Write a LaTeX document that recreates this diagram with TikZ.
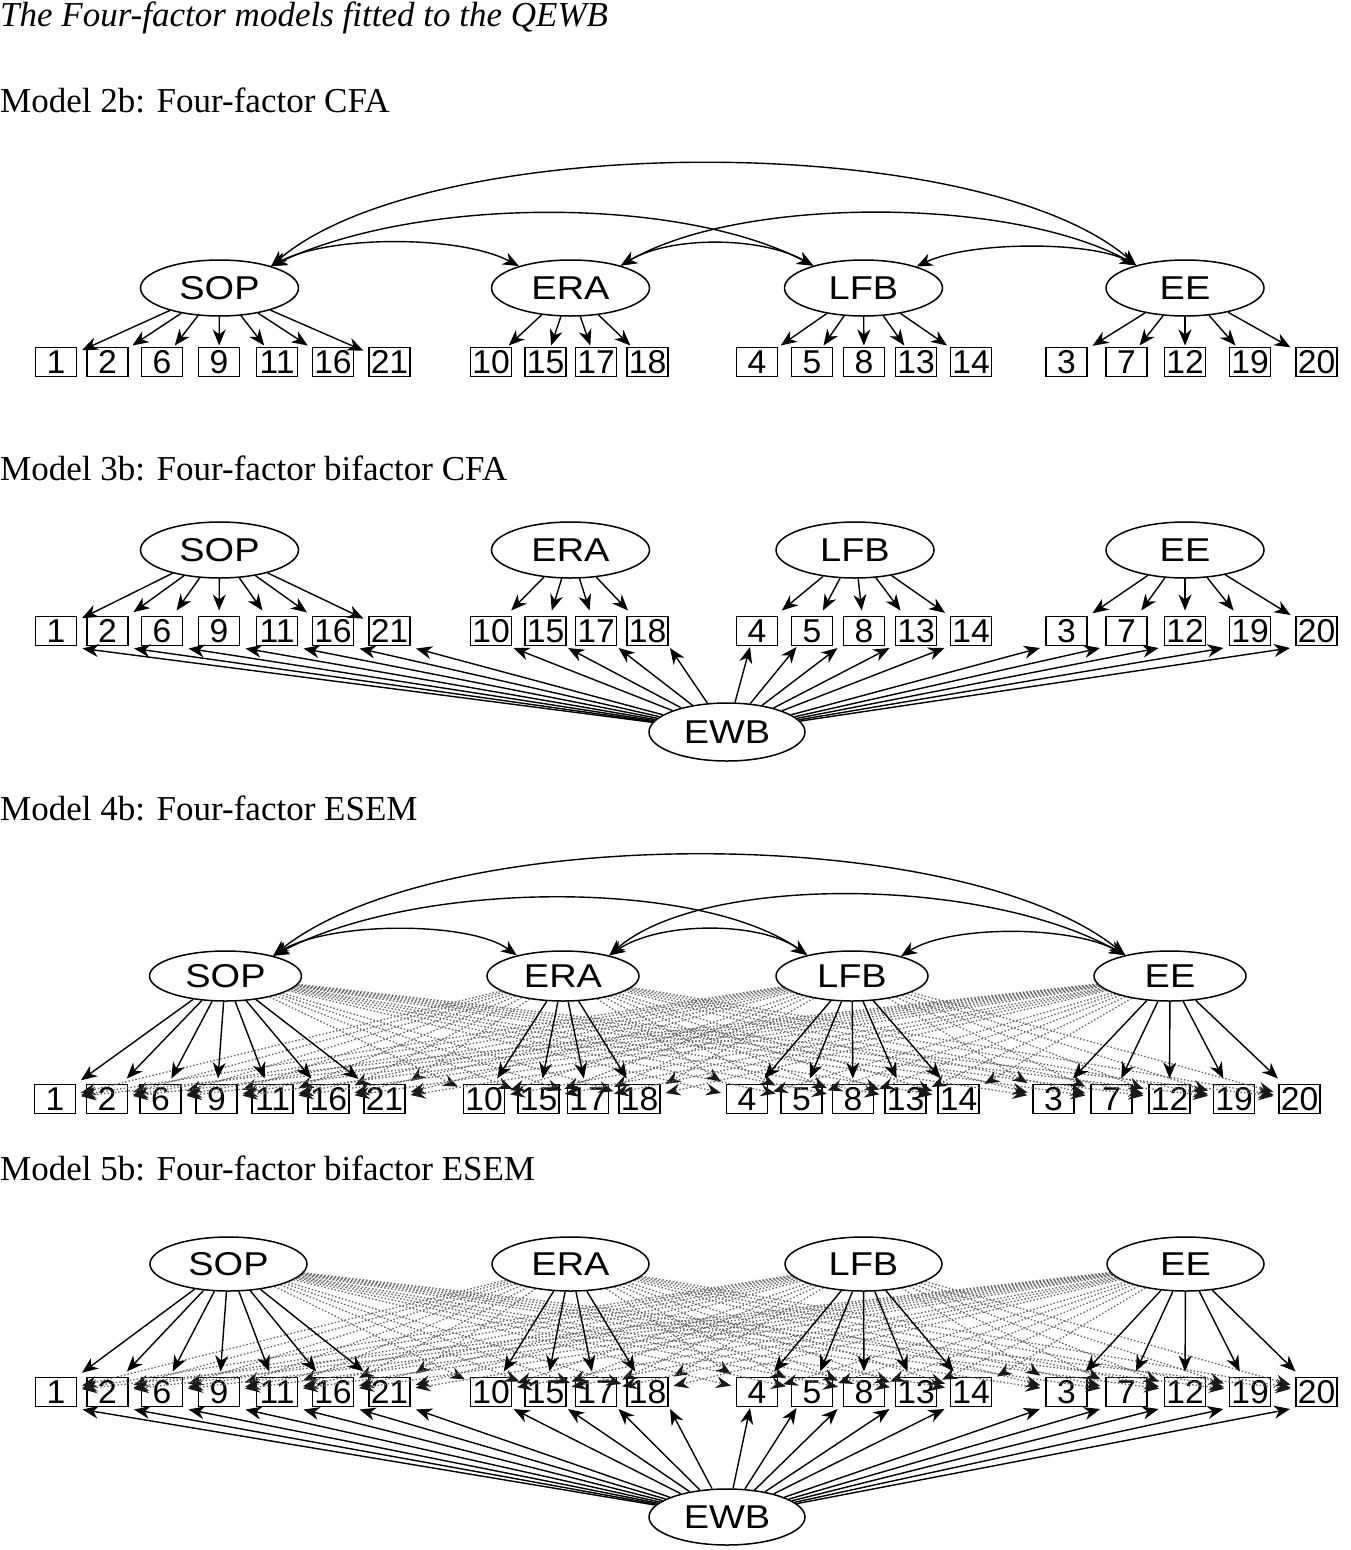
\documentclass[tikz,border=0pt]{standalone}
\usepackage{fontspec}
\setmainfont{Liberation Serif}
\newfontfamily\arialf{Liberation Sans}
\usepackage{graphicx}
\usetikzlibrary{shapes.geometric,arrows.meta}
\newcommand\wlab[2]{\scalebox{#1}[1]{#2}}
\begin{document}
\begin{tikzpicture}[x=1pt,y=-1pt,
  lat/.style={draw, ellipse, line width=1.5pt, inner sep=0pt, minimum width=158pt, minimum height=56pt, font=\fontsize{33}{33}\selectfont\arialf},
  obs/.style={draw, rectangle, line width=1.5pt, inner sep=0pt, minimum width=41pt, minimum height=29pt, outer xsep=5.5pt, outer ysep=6pt, font=\fontsize{33}{33}\selectfont\arialf},
  ld/.style={-{Stealth[length=16pt,width=13pt,inset=5pt]}, line width=1.4pt},
  xl/.style={-{Stealth[length=15pt,width=12pt,inset=5pt,color=black!90]}, line width=1.3pt, black!60, dash pattern=on 1.5pt off 2pt},
  cv/.style={{Stealth[length=16pt,width=13pt,inset=5pt]}-{Stealth[length=16pt,width=13pt,inset=5pt]}, line width=1.4pt},
  ttl/.style={anchor=base west, inner sep=0pt, font=\fontsize{35}{40}\selectfont}]
\fill[white] (0,0) rectangle (1350,1550);
\useasboundingbox (0,0) rectangle (1350,1550);

\def\stdpos{1/56, 2/107.5, 6/162, 9/219, 11/277, 16/333, 21/389.5, 10/491, 15/545.5, 17/596, 18/647.5, 4/757, 5/812, 8/864, 13/916, 14/971, 3/1066.5, 7/1126.5, 12/1185, 19/1250, 20/1316.5}
\def\esempos{1/55, 2/107, 6/160.5, 9/216.5, 11/272.5, 16/328.5, 21/384.5, 10/484, 15/538.5, 17/588, 18/639.5, 4/747, 5/801.5, 8/853, 13/905.5, 14/958.5, 3/1053.5, 7/1111.5, 12/1169.5, 19/1234, 20/1299.5}
\def\notSOP{10,15,17,18,4,5,8,13,14,3,7,12,19,20}
\def\notERA{1,2,6,9,11,16,21,4,5,8,13,14,3,7,12,19,20}
\def\notLFB{1,2,6,9,11,16,21,10,15,17,18,3,7,12,19,20}
\def\notEE{1,2,6,9,11,16,21,10,15,17,18,4,5,8,13,14}

% ---------- titles ----------
\node[ttl] (t0) at (0,26) {\itshape The Four-factor models fitted to the QEWB};
\node[ttl] (t1) at (0,112) {Model 2b: Four-factor CFA};
\node[ttl] (t2) at (0,480) {Model 3b: Four-factor bifactor CFA};
\node[ttl] (t3) at (0,820) {Model 4b: Four-factor ESEM};
\node[ttl] (t4) at (0,1180) {Model 5b: Four-factor bifactor ESEM};

% ---------- Model 2b ----------
\node[lat] (aSOP) at (219.5,288) {\wlab{1.15}{SOP}};
\node[lat] (aERA) at (570.5,288) {\wlab{1.15}{ERA}};
\node[lat] (aLFB) at (863.5,288) {\wlab{1.15}{LFB}};
\node[lat] (aEE) at (1185,288) {\wlab{1.15}{EE}};
\foreach \n/\x in \stdpos {\node[obs, outer ysep=2pt] (a\n) at (\x,362) {\wlab{1.02}{\n}};}
\foreach \n in {1,2,6,9,11,16,21} {\draw[ld] (aSOP) -- (a\n);}
\foreach \n in {10,15,17,18} {\draw[ld] (aERA) -- (a\n);}
\foreach \n in {4,5,8,13,14} {\draw[ld] (aLFB) -- (a\n);}
\foreach \n in {3,7,12,19,20} {\draw[ld] (aEE) -- (a\n);}
\draw[cv] (aSOP.23) .. controls (330,235) and (460,235) .. (aERA.157);
\draw[cv] (aSOP.23) .. controls (420,196) and (680,196) .. (aLFB.156);
\draw[cv] (aSOP.23) .. controls (430,130) and (980,130) .. (aEE.155);
\draw[cv] (aERA.24) .. controls (670,236) and (760,236) .. (aLFB.156);
\draw[cv] (aERA.24) .. controls (740,196) and (1010,196) .. (aEE.155);
\draw[cv] (aLFB.22) .. controls (970,241) and (1090,241) .. (aEE.155);

% ---------- Model 3b ----------
\node[lat] (bSOP) at (219.5,550) {\wlab{1.15}{SOP}};
\node[lat] (bERA) at (570.5,550) {\wlab{1.15}{ERA}};
\node[lat] (bLFB) at (855,550) {\wlab{1.15}{LFB}};
\node[lat] (bEE) at (1185,550) {\wlab{1.15}{EE}};
\node[lat, minimum width=156pt, minimum height=58pt] (bEWB) at (727,732) {\wlab{1.15}{EWB}};
\foreach \n/\x in \stdpos {\node[obs] (b\n) at (\x,631) {\wlab{1.02}{\n}};}
\foreach \n in {1,2,6,9,11,16,21} {\draw[ld] (bSOP) -- (b\n);}
\foreach \n in {10,15,17,18} {\draw[ld] (bERA) -- (b\n);}
\foreach \n in {4,5,8,13,14} {\draw[ld] (bLFB) -- (b\n);}
\foreach \n in {3,7,12,19,20} {\draw[ld] (bEE) -- (b\n);}
\foreach \n in {1,2,6,9,11,16,21} {\draw[ld] (bEWB) -- ([shift={(0.5,-3)}]b\n.south east);}
\foreach \n in {10,15,17,18} {\draw[ld] (bEWB) -- ([shift={(-3.5,-3.5)}]b\n.south east);}
\draw[ld] (bEWB) -- ([shift={(-7,-4.5)}]b4.south);
\draw[ld] (bEWB) -- ([shift={(-15.5,-4.5)}]b5.south);
\foreach \n in {8,13,14,3,7,12,19,20} {\draw[ld] (bEWB) -- ([shift={(-0.5,-3.5)}]b\n.south west);}

% ---------- Model 4b ----------
\begin{scope}[lat/.append style={minimum width=152pt, minimum height=50pt}]
\node[lat] (cSOP) at (225.5,976) {\wlab{1.15}{SOP}};
\node[lat] (cERA) at (563,976) {\wlab{1.15}{ERA}};
\node[lat] (cLFB) at (852,976) {\wlab{1.15}{LFB}};
\node[lat] (cEE) at (1170,976) {\wlab{1.15}{EE}};
\end{scope}
\foreach \n/\x in \esempos {\node[obs] (c\n) at (\x,1099) {\wlab{1.02}{\n}};}
\foreach \n in \notSOP {\draw[xl] (cSOP) -- (c\n);}
\foreach \n in \notERA {\draw[xl] (cERA) -- (c\n);}
\foreach \n in \notLFB {\draw[xl] (cLFB) -- (c\n);}
\foreach \n in \notEE {\draw[xl] (cEE) -- (c\n);}
\foreach \n in {1,2,6,9,11,16,21} {\draw[ld] (cSOP) -- (c\n);}
\foreach \n in {10,15,17,18} {\draw[ld] (cERA) -- (c\n);}
\foreach \n in {4,5,8,13,14} {\draw[ld] (cLFB) -- (c\n);}
\foreach \n in {3,7,12,19,20} {\draw[ld] (cEE) -- (c\n);}
\draw[cv] (cSOP.23) .. controls (330,921) and (470,921) .. (cERA.156);
\draw[cv] (cSOP.23) .. controls (420,879) and (700,879) .. (cLFB.155);
\draw[cv] (cSOP.23) .. controls (440,822) and (960,822) .. (cEE.155);
\draw[cv] (cERA.24) .. controls (660,921) and (760,921) .. (cLFB.155);
\draw[cv] (cERA.24) .. controls (700,875) and (980,875) .. (cEE.155);
\draw[cv] (cLFB.22) .. controls (950,925) and (1070,925) .. (cEE.155);

% ---------- Model 5b ----------
\begin{scope}[lat/.append style={minimum width=157pt, minimum height=54pt}]
\node[lat] (dSOP) at (228.5,1264) {\wlab{1.15}{SOP}};
\node[lat] (dERA) at (570.5,1264) {\wlab{1.15}{ERA}};
\node[lat] (dLFB) at (863.5,1264) {\wlab{1.15}{LFB}};
\node[lat] (dEE) at (1185.5,1264) {\wlab{1.15}{EE}};
\node[lat, minimum width=156pt, minimum height=56pt] (dEWB) at (727,1517) {\wlab{1.15}{EWB}};
\end{scope}
\foreach \n/\x in \stdpos {\node[obs] (d\n) at (\x,1392) {\wlab{1.02}{\n}};}
\foreach \n in \notSOP {\draw[xl] (dSOP) -- (d\n);}
\foreach \n in \notERA {\draw[xl] (dERA) -- (d\n);}
\foreach \n in \notLFB {\draw[xl] (dLFB) -- (d\n);}
\foreach \n in \notEE {\draw[xl] (dEE) -- (d\n);}
\foreach \n in {1,2,6,9,11,16,21} {\draw[ld] (dSOP) -- (d\n);}
\foreach \n in {10,15,17,18} {\draw[ld] (dERA) -- (d\n);}
\foreach \n in {4,5,8,13,14} {\draw[ld] (dLFB) -- (d\n);}
\foreach \n in {3,7,12,19,20} {\draw[ld] (dEE) -- (d\n);}
\foreach \n in {1,2,6,9,11,16,21} {\draw[ld] (dEWB) -- ([shift={(0.5,-3)}]d\n.south east);}
\foreach \n in {10,15,17,18} {\draw[ld] (dEWB) -- ([shift={(-3.5,-3.5)}]d\n.south east);}
\draw[ld] (dEWB) -- ([shift={(-7,-4.5)}]d4.south);
\draw[ld] (dEWB) -- ([shift={(-15.5,-4.5)}]d5.south);
\foreach \n in {8,13,14,3,7,12,19,20} {\draw[ld] (dEWB) -- ([shift={(-0.5,-3.5)}]d\n.south west);}
\end{tikzpicture}
\end{document}
